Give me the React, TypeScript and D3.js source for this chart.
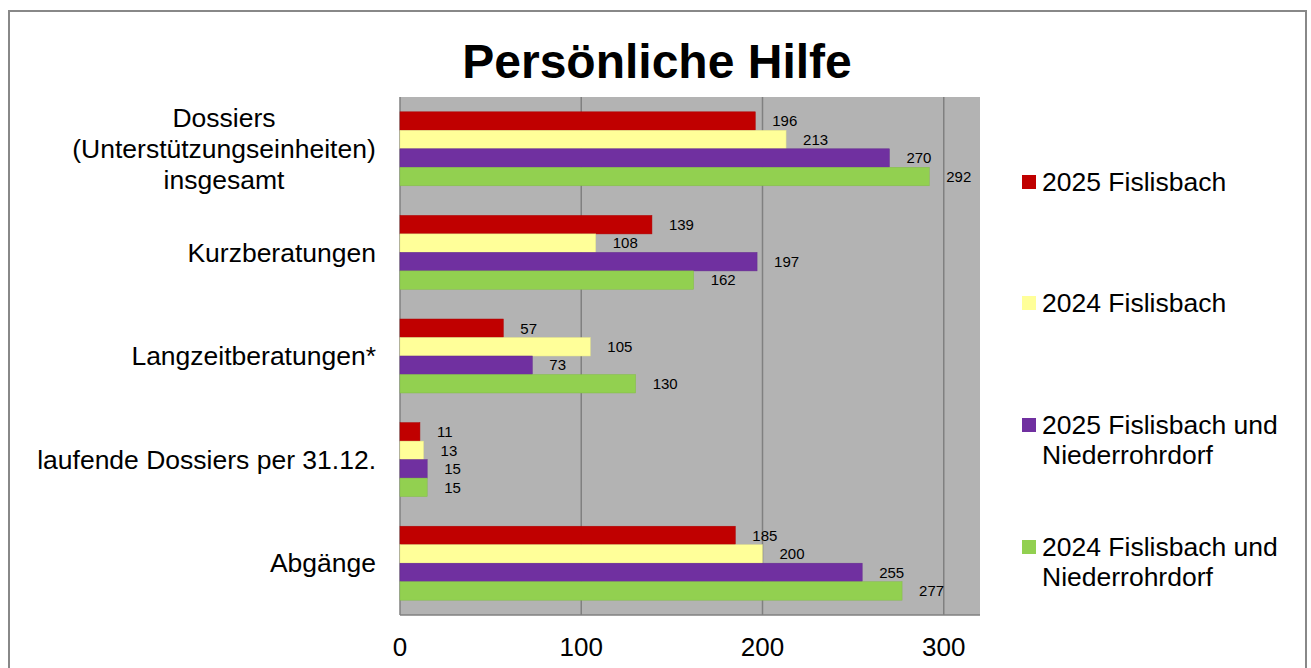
import React from "react";
import * as d3 from "d3";

const categories: string[][] = [
  ["Dossiers", "(Unterstützungseinheiten)", "insgesamt"],
  ["Kurzberatungen"],
  ["Langzeitberatungen*"],
  ["laufende Dossiers per 31.12."],
  ["Abgänge"],
];
const seriesNames: string[][] = [
  ["2025 Fislisbach"],
  ["2024 Fislisbach"],
  ["2025 Fislisbach und", "Niederrohrdorf"],
  ["2024 Fislisbach und", "Niederrohrdorf"],
];
const seriesColors = ["#c00000", "#ffff99", "#7030a0", "#92d050"];
const values2025F = [196, 139, 57, 11, 185];
const values2024F = [213, 108, 105, 13, 200];
const values2025FN = [270, 197, 73, 15, 255];
const values2024FN = [292, 162, 130, 15, 277];
const seriesValues = [values2025F, values2024F, values2025FN, values2024FN];
const xTicks = [0, 100, 200, 300];
const title = "Persönliche Hilfe";

const W = 1311;
const H = 668;
const plot = { left: 400, right: 980, top: 97, bottom: 615 };
const FONT = "'Liberation Sans', Arial, Helvetica, sans-serif";
const LABEL_FS = 26.5;

export default function App() {
  const x = d3.scaleLinear().domain([0, 320]).range([plot.left, plot.right]);
  const y = d3
    .scaleBand<number>()
    .domain(d3.range(categories.length))
    .range([plot.top, plot.bottom])
    .paddingInner(0.286)
    .paddingOuter(0.143);
  const inner = d3
    .scaleBand<number>()
    .domain(d3.range(seriesValues.length))
    .range([0, y.bandwidth()])
    .padding(0);
  const legendY = [182, 303, 425, 547];
  const lineH = 30;

  return (
    <svg
      width={W}
      height={H}
      style={{ position: "absolute", left: 0, top: 0, background: "#fff" }}
      fontFamily={FONT}
    >
      <rect x={9} y={11} width={1297} height={700} fill="#fff" stroke="#888" strokeWidth={2} />
      <text x={657} y={78} textAnchor="middle" fontSize={48} fontWeight="bold" fill="#000">
        {title}
      </text>
      <rect
        x={plot.left}
        y={plot.top}
        width={plot.right - plot.left}
        height={plot.bottom - plot.top}
        fill="#b3b3b3"
      />
      {xTicks.slice(1).map((t) => (
        <line key={t} x1={x(t)} x2={x(t)} y1={plot.top} y2={plot.bottom} stroke="#808080" strokeWidth={1.5} />
      ))}
      <line x1={plot.left} x2={plot.left} y1={plot.top} y2={plot.bottom} stroke="#808080" strokeWidth={1.5} />
      <line x1={plot.left} x2={plot.right} y1={plot.bottom} y2={plot.bottom} stroke="#808080" strokeWidth={1.5} />
      {seriesValues.map((vals, s) =>
        vals.map((v, c) => {
          const by = (y(c) as number) + (inner(s) as number);
          return (
            <g key={`${s}-${c}`}>
              <rect
                x={x(0)}
                y={by}
                width={x(v) - x(0)}
                height={inner.bandwidth()}
                fill={seriesColors[s]}
                stroke={d3.color(seriesColors[s])!.darker(0.3).toString()}
                strokeWidth={0.5}
              />
              <text
                x={x(v) + 17}
                y={by + inner.bandwidth() / 2}
                dy="0.35em"
                fontSize={15}
                fill="#000"
              >
                {v}
              </text>
            </g>
          );
        })
      )}
      {xTicks.map((t) => (
        <text key={t} x={x(t)} y={647} dy="0.35em" textAnchor="middle" fontSize={26} fill="#000">
          {t}
        </text>
      ))}
      {categories.map((lines, c) => {
        const cy = (y(c) as number) + y.bandwidth() / 2;
        const n = lines.length;
        const lh = 31;
        if (n === 1) {
          return (
            <text key={c} x={376} y={cy} dy="0.35em" textAnchor="end" fontSize={LABEL_FS} fill="#000">
              {lines[0]}
            </text>
          );
        }
        return (
          <text key={c} x={224} y={cy} textAnchor="middle" fontSize={LABEL_FS} fill="#000">
            {lines.map((l, i) => (
              <tspan key={i} x={224} y={cy + (i - (n - 1) / 2) * lh} dy="0.35em">
                {l}
              </tspan>
            ))}
          </text>
        );
      })}
      {seriesNames.map((lines, s) => (
        <g key={s}>
          <rect x={1022} y={legendY[s] - 7} width={14} height={14} fill={seriesColors[s]} />
          <text fontSize={LABEL_FS} fill="#000">
            {lines.map((l, i) => (
              <tspan key={i} x={1042} y={legendY[s] + i * lineH} dy="0.35em">
                {l}
              </tspan>
            ))}
          </text>
        </g>
      ))}
    </svg>
  );
}
